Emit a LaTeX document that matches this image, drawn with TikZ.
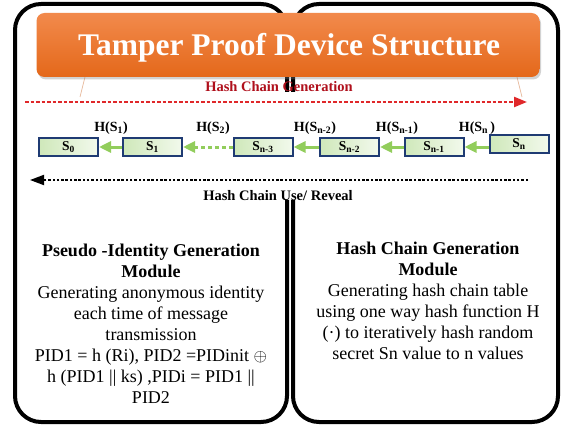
\documentclass[tikz,border=0pt]{standalone}
\usepackage{fontspec}
\setmainfont{Liberation Serif}
\usetikzlibrary{arrows.meta,shadows}

\definecolor{navy}{HTML}{1F3B73}
\definecolor{boxgreen}{HTML}{CFE8BA}
\definecolor{boxlight}{HTML}{F2F9EC}
\definecolor{linkgreen}{HTML}{92CD5C}
\definecolor{redline}{HTML}{E0282A}
\definecolor{darkred}{HTML}{B0101C}
\definecolor{orangetop}{HTML}{F28A4C}
\definecolor{orangebot}{HTML}{E4681A}
\definecolor{faint}{HTML}{E6B596}

\begin{document}
\begin{tikzpicture}[x=1pt,y=-1pt,
  panel/.style={draw=black, line width=4pt, rounded corners=26pt, fill=white,
    minimum height=418pt, inner sep=0pt},
  titlebar/.style={rounded corners=8pt, top color=orangetop, bottom color=orangebot,
    minimum width=503pt, minimum height=64pt, inner sep=0pt,
    drop shadow={opacity=0.35, shadow xshift=1.5pt, shadow yshift=-2.5pt}},
  chainbox/.style={draw=navy, line width=2pt, left color=boxgreen, right color=boxlight,
    minimum width=59pt, minimum height=18pt, inner sep=0pt,
    font=\fontsize{13.5}{14}\selectfont\bfseries},
  hlabel/.style={anchor=base, font=\fontsize{14}{15}\selectfont\bfseries},
  link/.style={draw=linkgreen, line width=3pt, -{Triangle[length=12pt,width=11pt]}},
  body/.style={align=center, inner sep=0pt, font=\fontsize{18}{21}\selectfont}
]
\useasboundingbox (0,0) rectangle (565,428);

% the two module panels
\node[panel, minimum width=272pt] (leftpanel) at (151,213) {};
\node[panel, minimum width=265pt] (rightpanel) at (425.5,213) {};

% hash chain strip laid over the panel junction
\fill[white] (22,92) rectangle (550,200);

% faint outline under the title bar
\draw[faint, line width=0.7pt] (85,77) -- (80,97);
\draw[faint, line width=0.7pt] (517,77) -- (522,97);

% title bar
\node[titlebar] (title) at (288,45) {};
\node[anchor=base, text=white, font=\fontsize{31.5}{32}\selectfont\bfseries]
  (titletext) at (289,56) {Tamper Proof Device Structure};

% generation direction
\node[anchor=base, text=darkred, font=\fontsize{14.5}{15}\selectfont\bfseries]
  (genlabel) at (279,92) {Hash Chain Generation};
\coordinate (genstart) at (25,102);
\coordinate (genend) at (527,102);
\draw[redline, line width=2.3pt, dash pattern=on 3.5pt off 2pt,
  -{Triangle[length=13pt,width=10pt]}] (genstart) -- (genend);

% hash chain values
\node[chainbox] (s0) at (68.5,147) {S\textsubscript{0}};
\node[chainbox] (s1) at (152.5,147) {S\textsubscript{1}};
\node[chainbox] (sn3) at (263,147) {S\textsubscript{n-3}};
\node[chainbox] (sn2) at (349.5,147) {S\textsubscript{n-2}};
\node[chainbox] (sn1) at (434,147) {S\textsubscript{n-1}};
\node[chainbox] (sn) at (519,144) {S\textsubscript{n}};

\draw[link] (s1) -- (s0);
\draw[link, dash pattern=on 4pt off 3pt] (sn3) -- (s1);
\draw[link] (sn2) -- (sn3);
\draw[link] (sn1) -- (sn2);
\draw[link] (sn.west |- sn1) -- (sn1);

\node[hlabel] (h1) at (111,131) {H(S\textsubscript{1})};
\node[hlabel] (h2) at (213,131) {H(S\textsubscript{2})};
\node[hlabel] (hn2) at (315,131) {H(S\textsubscript{n-2})};
\node[hlabel] (hn1) at (397,131) {H(S\textsubscript{n-1})};
\node[hlabel] (hn) at (477,131) {H(S\textsubscript{n}\,)};

% use / reveal direction
\coordinate (usestart) at (528,180);
\coordinate (useend) at (30,180);
\draw[black, line width=1.8pt, dash pattern=on 2.5pt off 1.8pt,
  -{Triangle[length=14pt,width=10pt]}] (usestart) -- (useend);
\node[anchor=base, font=\fontsize{14.5}{15}\selectfont\bfseries]
  (uselabel) at (278,200) {Hash Chain Use/ Reveal};

% module descriptions
\node[body] (pidtext) at (151,324) {%
  \textbf{Pseudo -Identity Generation}\\
  \textbf{Module}\\
  Generating anonymous identity\\
  each time of message\\
  transmission\\
  PID1 = h (Ri), PID2 =PIDinit $\oplus$\\
  h (PID1 || ks) ,PIDi = PID1 ||\\
  PID2};
\node[body] (hctext) at (428,301) {%
  \textbf{Hash Chain Generation}\\
  \textbf{Module}\\
  Generating hash chain table\\
  using one way hash function H\\
  (·) to iteratively hash random\\
  secret Sn value to n values};
\end{tikzpicture}
\end{document}
